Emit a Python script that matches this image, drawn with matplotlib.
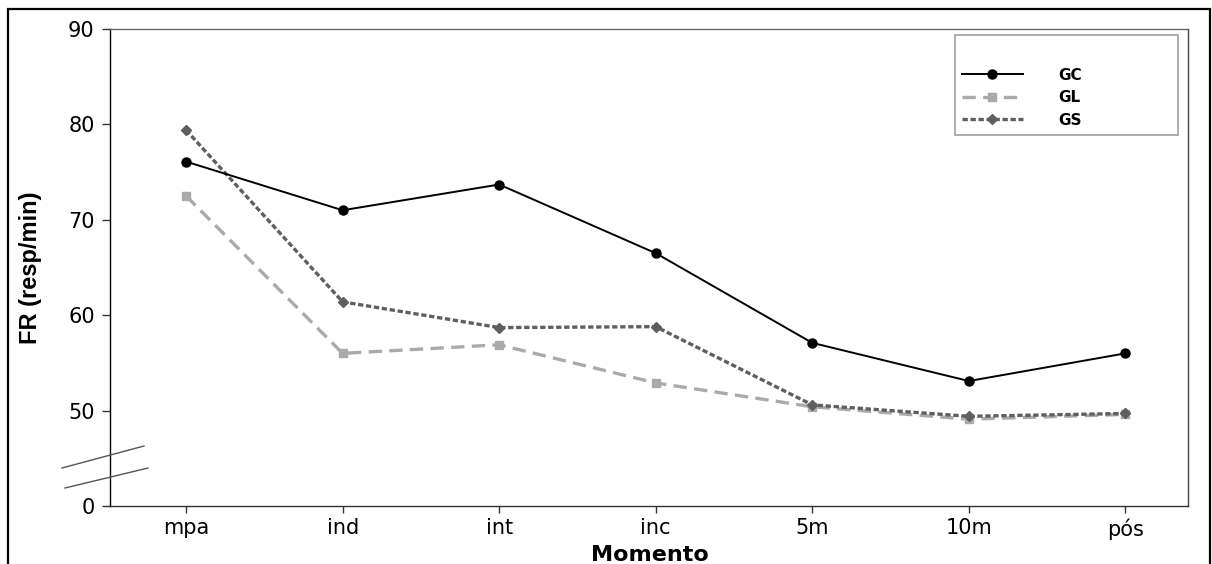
import matplotlib
matplotlib.use("Agg")
import matplotlib.pyplot as plt
from matplotlib.patches import Rectangle
from matplotlib.lines import Line2D

# Data
categories = ["mpa", "ind", "int", "inc", "5m", "10m", "pós"]
gc = [76.1, 71.0, 73.7, 66.5, 57.1, 53.1, 56.0]
gl = [72.5, 56.0, 56.9, 52.9, 50.4, 49.1, 49.6]
gs = [79.4, 61.4, 58.7, 58.8, 50.6, 49.4, 49.7]
y_ticks = [40, 50, 60, 70, 80, 90]
y_tick_labels = ["0", "50", "60", "70", "80", "90"]

W, H = 1212, 564
fig = plt.figure(figsize=(W / 100, H / 100), dpi=100)
ax = fig.add_axes([110 / W, 1 - 506 / H, (1188 - 110) / W, (506 - 29) / H])

x = list(range(len(categories)))
ax.plot(x, gc, color="black", lw=1.4, marker="o", ms=6.5, label="GC", zorder=4)
ax.plot(x, gl, color="#aaaaaa", lw=2.4, ls=(0, (4.0, 2.2)), marker="s", ms=5.5,
        label="GL", zorder=3)
ax.plot(x, gs, color="#5f5f5f", lw=2.4, ls=(0, (1.6, 0.8)), marker="D", ms=5.5,
        label="GS", zorder=3)

ax.set_xlim(-0.486, 6.40)
ax.set_ylim(40, 90)
ax.set_xticks(x)
ax.set_xticklabels(categories, fontsize=15)
ax.set_yticks(y_ticks)
ax.set_yticklabels(y_tick_labels, fontsize=15)
ax.tick_params(axis="y", direction="out", length=6, width=1, pad=5, colors="#333333",
               labelcolor="black")
ax.tick_params(axis="x", direction="out", length=5, width=1, pad=4, colors="#333333",
               labelcolor="black")
for side, c in [("left", "black"), ("bottom", "#333333"), ("top", "#666666"), ("right", "#444444")]:
    ax.spines[side].set_color(c)
    ax.spines[side].set_linewidth(1)

# axis labels
fig.text(31 / W, 1 - 268 / H, "FR (resp/min)", rotation=90, ha="center", va="center",
         fontsize=17, fontweight="bold", family="Liberation Sans")
fig.text(650 / W, 1 - 561 / H, "Momento", ha="center", va="baseline",
         fontsize=16, fontweight="bold", family="DejaVu Sans")

# axis break marks
for (x0, y0, x1, y1) in [(62, 468, 144, 446), (65, 488, 148, 468)]:
    fig.add_artist(Line2D([x0 / W, x1 / W], [1 - y0 / H, 1 - y1 / H],
                          transform=fig.transFigure, color="#555555", lw=1))

# legend
leg = ax.legend(loc="upper left", bbox_to_anchor=(955 / W, 1 - 35 / H, (1178 - 955) / W, 0),
                bbox_transform=fig.transFigure, mode="expand", title=" ",
                title_fontsize=12, prop={"weight": "bold", "size": 11},
                handlelength=4.0, handletextpad=2.3, labelspacing=0.5,
                frameon=True, fancybox=False, borderpad=0.45, borderaxespad=0)
leg.get_frame().set_edgecolor("#888888")
leg.get_frame().set_linewidth(1.2)

# outer frame
fig.add_artist(Rectangle((8 / W, -0.05), (1210 - 8) / W, 1 - 9 / H + 0.05,
                         transform=fig.transFigure, fill=False, edgecolor="black", lw=1.6))

fig.savefig("out.png", dpi=100)
